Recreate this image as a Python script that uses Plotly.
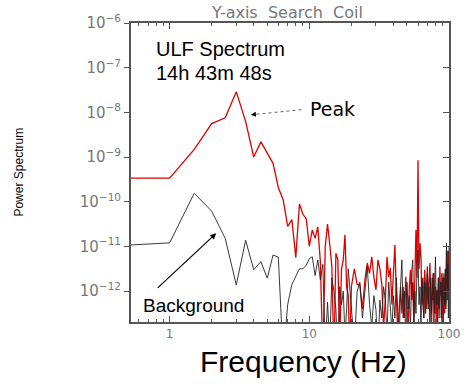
import plotly.graph_objects as go

# ---------------- data ----------------
freq_hz = [0.5, 1.0, 1.5, 2.0, 2.5, 3.0, 3.5, 4.0, 4.5, 5.0,
           5.5, 6.0, 6.5, 7.0, 7.5, 8.0, 8.5, 9.0, 9.5, 10.0,
           10.5, 11.0, 11.5, 12.0, 12.5, 13.0, 13.5, 14.0, 14.5, 15.0,
           15.5, 16.0, 16.5, 17.0, 17.5, 18.0, 18.5, 19.0, 19.5, 20.0,
           21, 22, 23, 24, 25, 26, 27, 28, 29, 30,
           31, 32, 33, 34, 35, 36, 37, 38, 39, 40,
           41, 42, 43, 44, 45, 46, 47, 48, 49, 50,
           51, 52, 53, 54, 55, 56, 57, 58, 59, 60,
           61, 62, 63, 64, 65, 66, 67, 68, 69, 70,
           71, 72, 73, 74, 75, 76, 77, 78, 79, 80,
           81, 82, 83, 84, 85, 86, 87, 88, 89, 90,
           91, 92, 93, 94, 95, 96, 97, 98, 99, 100]

# log10 of power spectrum, ULF event (red)
signal_log10 = [-9.47, -9.47, -8.83, -8.25, -8.12, -7.54, -8.20, -9.00, -8.66, -8.90,
                -9.14, -9.68, -9.96, -10.55, -10.40, -11.25, -10.05, -10.28, -10.38, -11.00,
                -10.63, -10.82, -10.56, -11.35, -13.50, -11.00, -10.50, -10.95, -11.45, -13.50,
                -11.15, -11.30, -13.20, -11.50, -11.30, -10.74, -11.90, -12.10, -13.30, -11.90,
                -11.50, -11.85, -11.86, -12.40, -11.75, -11.37, -11.60, -11.23, -11.70, -11.97,
                -11.30, -11.50, -11.83, -12.80, -12.20, -11.23, -11.68, -11.48, -12.30, -11.60,
                -10.97, -12.10, -13.00, -12.40, -11.90, -12.50, -11.90, -12.60, -11.68, -12.30,
                -12.90, -11.90, -11.52, -12.20, -11.80, -12.70, -11.90, -10.63, -11.70, -9.07,
                -11.50, -10.93, -11.23, -12.30, -11.70, -12.60, -11.52, -11.90, -12.40, -11.60,
                -12.30, -11.80, -11.37, -12.10, -12.80, -11.70, -12.20, -11.60, -12.50, -11.90,
                -12.70, -11.97, -12.30, -11.70, -12.60, -11.45, -12.10, -11.80, -12.90, -11.70,
                -12.20, -11.60, -12.50, -11.90, -12.30, -11.08, -11.90, -11.10, -12.00, -11.10]

# log10 of power spectrum, background (black)
background_log10 = [-10.97, -10.92, -9.81, -10.21, -10.82, -11.86, -10.86, -11.52, -11.34, -11.71,
                    -11.19, -11.24, -13.50, -12.30, -11.85, -11.65, -11.50, -11.50, -11.42, -11.27,
                    -11.23, -11.65, -11.30, -11.75, -11.40, -13.30, -12.25, -13.20, -11.70, -12.00,
                    -12.40, -13.50, -11.90, -12.30, -12.00, -13.00, -12.40, -11.50, -12.00, -12.30,
                    -13.20, -12.00, -11.80, -12.60, -12.05, -11.45, -12.30, -12.80, -12.10, -12.42,
                    -13.40, -12.20, -12.60, -11.90, -12.20, -13.00, -11.80, -12.50, -12.90, -12.10,
                    -12.60, -11.70, -12.40, -13.20, -11.90, -11.30, -12.60, -12.00, -13.10, -11.80,
                    -12.40, -12.10, -12.90, -11.60, -11.30, -12.70, -12.00, -12.50, -11.50, -11.08,
                    -12.30, -11.90, -12.80, -11.70, -12.30, -12.60, -11.80, -12.50, -11.90, -11.45,
                    -12.40, -11.90, -12.90, -11.70, -12.50, -12.00, -11.60, -12.70, -11.90, -11.23,
                    -12.30, -12.00, -12.80, -11.70, -12.40, -12.10, -11.80, -12.60, -11.60, -12.20,
                    -12.90, -11.70, -12.30, -11.50, -12.40, -10.93, -12.20, -11.40, -12.60, -11.00]

x_tick_vals = [1, 10, 100]
x_tick_text = ["1", "10", "100"]
x_minor_vals = [0.6, 0.7, 0.8, 0.9, 2, 3, 4, 5, 6, 7, 8, 9, 20, 30, 40, 50, 60, 70, 80, 90]
y_exponents = [-6, -7, -8, -9, -10, -11, -12]

signal_power = [10 ** v for v in signal_log10]
background_power = [10 ** v for v in background_log10]
y_tick_vals = [10.0 ** e for e in y_exponents]
y_tick_text = ["10<sup>\u2212%d</sup>" % (-e) for e in y_exponents]

# ---------------- geometry helpers (pixel -> paper) ----------------
W, H = 472, 391
L, R, T, B = 131, 452, 22, 322


def px(x):
    return (x - L) / (R - L)


def py(y):
    return (B - y) / (B - T)


fig = go.Figure()
fig.add_trace(go.Scatter(x=freq_hz, y=signal_power, mode="lines",
                         line=dict(color="#e00000", width=1.3), name="Signal",
                         showlegend=False))
fig.add_trace(go.Scatter(x=freq_hz, y=background_power, mode="lines",
                         line=dict(color="#222222", width=0.9), name="Background",
                         showlegend=False))
fig.add_trace(go.Scatter(x=[], y=[], yaxis="y2", showlegend=False, hoverinfo="skip"))

axis_col = "#555555"
tick_font = dict(family="DejaVu Sans", size=15, color="#777777")

fig.update_layout(
    width=W, height=H,
    margin=dict(l=L, r=W - R, t=T, b=H - B),
    paper_bgcolor="white", plot_bgcolor="white",
    showlegend=False,
    xaxis=dict(type="log", range=[-0.2766, 2.0],
               tickvals=x_tick_vals, ticktext=x_tick_text,
               ticks="inside", ticklen=6, tickcolor=axis_col, tickwidth=1,
               minor=dict(tickvals=x_minor_vals, ticks="inside", ticklen=3,
                          tickcolor=axis_col, tickwidth=1, showgrid=False),
               showline=True, linecolor=axis_col, linewidth=2, mirror="ticks",
               showgrid=False, zeroline=False,
               tickfont=dict(family="DejaVu Sans", size=12, color="#777777")),
    yaxis=dict(type="log", range=[-12.69, -6.0],
               tickvals=y_tick_vals, ticktext=y_tick_text,
               ticks="outside", ticklen=5, tickcolor=axis_col,
               showline=True, linecolor=axis_col, linewidth=2, mirror=True,
               showgrid=False, zeroline=False, tickfont=tick_font),
    yaxis2=dict(type="log", range=[-12.69, -6.0], overlaying="y", side="right",
                anchor="x", tickvals=y_tick_vals, ticks="inside", ticklen=6,
                tickcolor=axis_col, showticklabels=False, showline=False,
                showgrid=False, zeroline=False),
)

ann = []
# title
ann.append(dict(x=px(288), y=py(11), xref="paper", yref="paper", text="Y-axis  Search  Coil",
                showarrow=False, xanchor="center", yanchor="middle",
                font=dict(family="DejaVu Sans", size=16, color="#777777")))
# axis titles
ann.append(dict(x=px(305), y=py(362), xref="paper", yref="paper", text="Frequency (Hz)",
                showarrow=False, xanchor="center", yanchor="middle",
                font=dict(family="Liberation Sans", size=30, color="black")))
ann.append(dict(x=px(17), y=py(172), xref="paper", yref="paper", text="Power Spectrum",
                showarrow=False, xanchor="center", yanchor="middle", textangle=-90,
                font=dict(family="Liberation Sans", size=12, color="black")))
# in-plot labels
ann.append(dict(x=px(154), y=py(48), xref="paper", yref="paper", text="ULF Spectrum",
                showarrow=False, xanchor="left", yanchor="middle",
                font=dict(family="Liberation Sans", size=20, color="black")))
ann.append(dict(x=px(154), y=py(72), xref="paper", yref="paper", text="14h 43m 48s",
                showarrow=False, xanchor="left", yanchor="middle",
                font=dict(family="Liberation Sans", size=20, color="black")))
ann.append(dict(x=px(310), y=py(108), xref="paper", yref="paper", text="Peak",
                showarrow=False, xanchor="left", yanchor="middle",
                font=dict(family="DejaVu Sans", size=19, color="black")))
ann.append(dict(x=px(141), y=py(305), xref="paper", yref="paper", text="Background",
                showarrow=False, xanchor="left", yanchor="middle",
                font=dict(family="Liberation Sans", size=19, color="black")))
# Background arrow (solid)
ann.append(dict(x=px(217), y=py(233), xref="paper", yref="paper", text="",
                showarrow=True, ax=157 - 217, ay=289 - 233, axref="pixel", ayref="pixel",
                arrowhead=2, arrowsize=1, arrowwidth=1.2, arrowcolor="black", standoff=0))
# Peak arrow head
ann.append(dict(x=px(252), y=py(114), xref="paper", yref="paper", text="",
                showarrow=True, ax=7, ay=-0.6, arrowhead=2, arrowsize=1,
                arrowwidth=1, arrowcolor="black", standoff=0))
fig.update_layout(annotations=ann)

# dotted leader line for Peak
fig.add_shape(type="line", xref="paper", yref="paper",
              x0=px(303), y0=py(109), x1=px(257), y1=py(113.6),
              line=dict(color="#666666", width=1, dash="dot"))

fig.write_html("out.html",
               config={"displayModeBar": False},
               post_script="document.body.style.margin='0';document.body.style.padding='0';")
